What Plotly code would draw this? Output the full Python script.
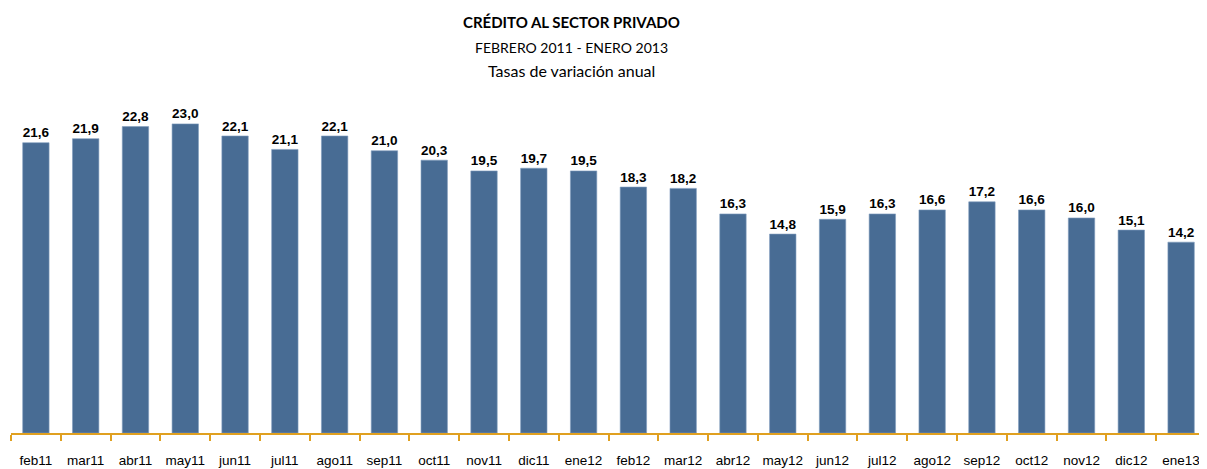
import plotly.graph_objects as go

categories = ["feb11", "mar11", "abr11", "may11", "jun11", "jul11", "ago11", "sep11",
              "oct11", "nov11", "dic11", "ene12", "feb12", "mar12", "abr12", "may12",
              "jun12", "jul12", "ago12", "sep12", "oct12", "nov12", "dic12", "ene13"]
values = [21.6, 21.9, 22.8, 23.0, 22.1, 21.1, 22.1, 21.0, 20.3, 19.5, 19.7, 19.5,
          18.3, 18.2, 16.3, 14.8, 15.9, 16.3, 16.6, 17.2, 16.6, 16.0, 15.1, 14.2]
labels = [f"{v:.1f}".replace(".", ",") for v in values]

SANS = "Liberation Sans, Arial, sans-serif"

fig = go.Figure(go.Bar(
    x=categories, y=values, text=labels, textposition="outside",
    textfont=dict(family=SANS, size=16.5, color="#000000", weight="bold"),
    marker=dict(color="#486c94", line=dict(color="#7f9cbd", width=0.6)),
    width=0.53, cliponaxis=False, hoverinfo="x+y",
))

# page body has an 8px margin; figure sized to fit the 1207x469 window
fig.update_layout(
    width=1199, height=461,
    margin=dict(l=3, r=1, t=89, b=36, autoexpand=False),
    paper_bgcolor="white", plot_bgcolor="white",
    showlegend=False,
    xaxis=dict(
        type="category", tickson="boundaries", ticks="outside", ticklen=6,
        tickcolor="#E0A020", tickwidth=1.5, showline=True, linecolor="#E0A020",
        linewidth=2, showgrid=False, ticklabelstandoff=14, tickangle=0,
        automargin=False,
        tickfont=dict(family=SANS, size=13.5, color="#000000"),
        range=[-0.5, 23.5],
    ),
    yaxis=dict(visible=False, range=[0, 25], showgrid=False, zeroline=False,
               automargin=False),
)
titles = [("<b>CRÉDITO AL SECTOR PRIVADO</b>", 22, 15),
          ("FEBRERO 2011 - ENERO 2013", 47, 14),
          ("Tasas de variación anual", 70, 16)]
for t, ypx, sz in titles:
    fig.add_annotation(text=t, x=(571 - 11) / 1195, xref="paper", xanchor="center",
                       y=1 + (97 - ypx) / 336, yref="paper", yanchor="middle",
                       showarrow=False,
                       font=dict(family="Lato, Open Sans, sans-serif", size=sz, color="#000"))

fig.write_html("out.html")
